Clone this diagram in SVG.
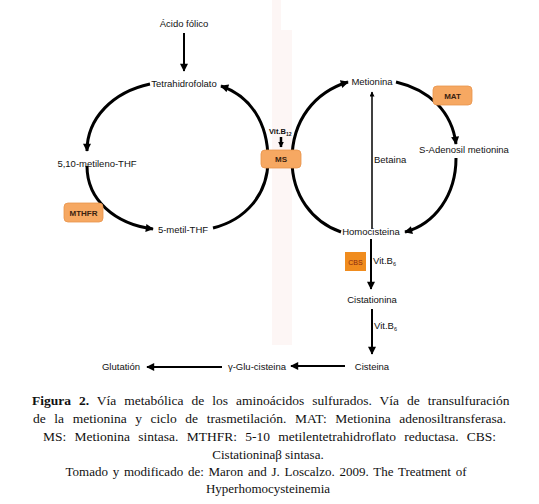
<svg xmlns="http://www.w3.org/2000/svg" width="539" height="504" viewBox="0 0 539 504">
<defs>
<marker id="ah" viewBox="0 0 10 10" refX="9" refY="5" markerWidth="9" markerHeight="8" markerUnits="userSpaceOnUse" orient="auto"><path d="M0,0 L10,5 L0,10 z" fill="#000"/></marker>
<marker id="ahs" viewBox="0 0 10 10" refX="9" refY="5" markerWidth="6" markerHeight="5" markerUnits="userSpaceOnUse" orient="auto"><path d="M0,0 L10,5 L0,10 z" fill="#000"/></marker>
<marker id="ahm" viewBox="0 0 10 10" refX="9" refY="5" markerWidth="6" markerHeight="8" markerUnits="userSpaceOnUse" orient="auto"><path d="M0,0 L10,5 L0,10 z" fill="#000"/></marker>
<style>
.lbl{font-family:"Liberation Sans",Arial,sans-serif;font-size:9.5px;fill:#111;}
.enz{font-family:"Liberation Sans",Arial,sans-serif;font-size:8px;font-weight:bold;fill:#3a2210;}
.box{fill:#f6a862;stroke:#e8944c;stroke-width:0.8;}
.arc{fill:none;stroke:#000;stroke-width:3;marker-end:url(#ah);}
.ln{fill:none;stroke:#000;stroke-width:2;marker-end:url(#ah);}
.cap{font-family:"Liberation Serif","Times New Roman",serif;font-size:13px;fill:#111;}
.capj{font-family:"Liberation Serif","Times New Roman",serif;font-size:13.5px;fill:#111;}
</style>
</defs>
<rect x="0" y="0" width="539" height="504" fill="#fff"/>
<path d="M272,0 H281 V30 H292 V345 H272 Z" fill="#fdf6f5"/>

<g id="connectors">
<path class="arc" d="M150,84 C113,92 87,118 87,151"/>
<path class="arc" d="M87,166 C87,200 115,224 153,229"/>
<path class="arc" d="M213,228 C245,220 268,195 268,160 C268,122 250,96 221,86"/>
<path class="arc" d="M341,232 C312,222 292,195 292,160 C292,120 315,92 348,82"/>
<path class="arc" d="M396,82 C430,90 452,112 456,144"/>
<path class="arc" d="M456,158 C456,195 435,224 405,232"/>
<path d="M372,229 V92" fill="none" stroke="#000" stroke-width="1.5" marker-end="url(#ahs)"/>
<path class="ln" d="M184,33 V71"/>
<path class="ln" d="M371,239 V289"/>
<path class="ln" d="M372,309 V354"/>
<path class="ln" d="M345,366 H291"/>
<path class="ln" d="M222,367 H147"/>
<path d="M281,137 V147" fill="none" stroke="#000" stroke-width="2.5" marker-end="url(#ahm)"/>
</g>

<g id="acido-folico"><text class="lbl" x="184" y="27" text-anchor="middle">Ácido fólico</text></g>
<g id="tetrahidrofolato"><text class="lbl" x="184" y="87" text-anchor="middle">Tetrahidrofolato</text></g>
<g id="metileno-thf"><text class="lbl" x="97" y="167" text-anchor="middle">5,10-metileno-THF</text></g>
<g id="metil-thf"><text class="lbl" x="183" y="233" text-anchor="middle">5-metil-THF</text></g>
<g id="mthfr"><rect class="box" x="64" y="203" width="39" height="19" rx="4"/><text class="enz" x="83.5" y="215.5" text-anchor="middle">MTHFR</text></g>
<g id="vitb12"><text x="269" y="134" font-family="Liberation Sans,Arial,sans-serif" font-size="7.5" font-weight="bold" fill="#111">Vit.B<tspan font-size="5" dy="1.5">12</tspan></text></g>
<g id="ms"><rect class="box" x="261" y="150" width="40" height="18" rx="4"/><text class="enz" x="281" y="162" text-anchor="middle">MS</text></g>
<g id="metionina"><text class="lbl" x="372" y="85" text-anchor="middle">Metionina</text></g>
<g id="mat"><rect class="box" x="433" y="86" width="39" height="19" rx="4"/><text class="enz" x="452.5" y="98.5" text-anchor="middle">MAT</text></g>
<g id="sam"><text class="lbl" x="464" y="153" text-anchor="middle">S-Adenosil metionina</text></g>
<g id="betaina"><text class="lbl" x="374" y="163">Betaina</text></g>
<g id="homocisteina"><text class="lbl" x="371" y="235" text-anchor="middle">Homocisteina</text></g>
<g id="cbs"><rect x="345" y="252" width="21" height="19" fill="#f08c1e"/><text x="355.5" y="264.5" text-anchor="middle" font-family="Liberation Sans,Arial,sans-serif" font-size="7px" fill="#8a2a10">CBS</text></g>
<g id="vitb6-1"><text class="lbl" x="373" y="264" font-size="8.5">Vit.B<tspan font-size="5.5" dy="2">6</tspan></text></g>
<g id="cistationina"><text class="lbl" x="372" y="303" text-anchor="middle">Cistationina</text></g>
<g id="vitb6-2"><text class="lbl" x="374" y="329" font-size="8.5">Vit.B<tspan font-size="5.5" dy="2">6</tspan></text></g>
<g id="cisteina"><text class="lbl" x="372" y="370" text-anchor="middle">Cisteina</text></g>
<g id="glu-cisteina"><text class="lbl" x="257" y="370" text-anchor="middle">γ-Glu-cisteina</text></g>
<g id="glutation"><text class="lbl" x="121" y="370" text-anchor="middle">Glutatión</text></g>

<g id="caption">
<text class="capj" x="32" y="405" word-spacing="4.6"><tspan font-weight="bold">Figura 2.</tspan> Vía metabólica de los aminoácidos sulfurados. Vía de transulfuración</text>
<text class="capj" x="33" y="423" word-spacing="5.2">de la metionina y ciclo de trasmetilación. MAT: Metionina adenosiltransferasa.</text>
<text class="capj" x="43" y="441" word-spacing="4.9">MS: Metionina sintasa. MTHFR: 5-10 metilentetrahidroflato reductasa. CBS:</text>
<text class="cap" x="268" y="459" text-anchor="middle">Cistationinaβ sintasa.</text>
<text class="cap" x="266" y="476" text-anchor="middle" word-spacing="1.5">Tomado y modificado de: Maron and J. Loscalzo. 2009. The Treatment of</text>
<text class="cap" x="268" y="493" text-anchor="middle">Hyperhomocysteinemia</text>
</g>
</svg>
